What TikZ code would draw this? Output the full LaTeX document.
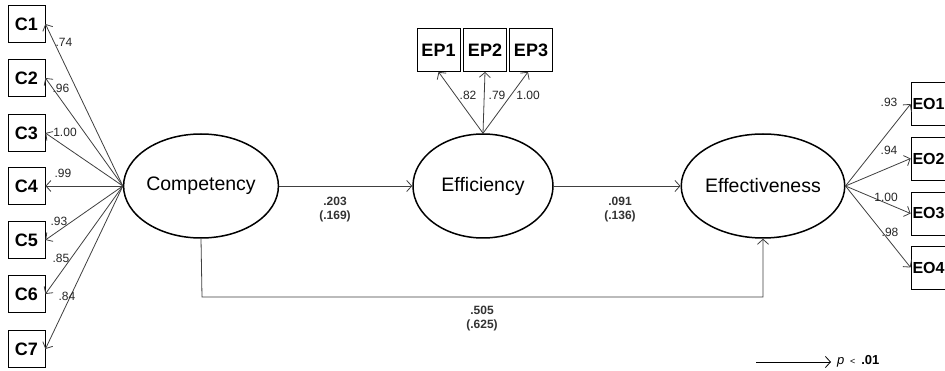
\documentclass[tikz,border=0pt]{standalone}
\usepackage{fontspec}
\setmainfont{Liberation Sans}
\usetikzlibrary{arrows.meta,shapes.geometric}
\begin{document}
\begin{tikzpicture}[x=1pt,y=-1pt,
  obs/.style={draw, line width=0.8pt, minimum width=37pt, minimum height=37pt, inner sep=0pt, font=\bfseries\fontsize{18}{18}\selectfont},
  obsw/.style={obs, minimum width=43pt, minimum height=43pt},
  obse/.style={obs, minimum height=43pt, text width=40pt, inner xsep=1.5pt, align=left, font=\bfseries\fontsize{16}{16}\selectfont},
  lat/.style={draw, ellipse, line width=1.5pt, minimum width=140pt, minimum height=104pt, inner sep=0pt, font=\fontsize{19.5}{20}\selectfont},
  arr/.style={draw=black!75, line width=0.8pt, -{Straight Barb[length=5pt,width=11pt]}},
  lab/.style={inner sep=0pt, text=black!85, font=\fontsize{12}{12}\selectfont},
  plab/.style={inner sep=0pt, text=black!80, align=center, font=\bfseries\fontsize{12}{14}\selectfont}
]
\useasboundingbox (0,0) rectangle (945,371);
\clip (0,0) rectangle (945,371);
\fill[white] (0,0) rectangle (945,371);

% latent variables
\node[lat] (comp) at (201,186) {Competency};
\node[lat] (eff) at (483,186) {Efficiency};
\node[lat] (effv) at (763,186) {Effectiveness};

% competency indicators
\node[obs] (c1) at (26.5,24) {C1};
\node[obs] (c2) at (26.5,78) {C2};
\node[obs] (c3) at (26.5,133) {C3};
\node[obs] (c4) at (26.5,186) {C4};
\node[obs] (c5) at (26.5,240) {C5};
\node[obs] (c6) at (26.5,294) {C6};
\node[obs] (c7) at (26.5,349) {C7};
\foreach \i in {1,...,7} \draw[arr] (comp.west) -- (c\i.east);
\node[lab] (l1) at (64,42) {.74};
\node[lab] (l2) at (61,88) {.96};
\node[lab] (l3) at (65,132) {1.00};
\node[lab] (l4) at (63,173) {.99};
\node[lab] (l5) at (59,221) {.93};
\node[lab] (l6) at (61,258) {.85};
\node[lab] (l7) at (67,296) {.84};

% efficiency indicators
\node[obsw] (ep1) at (438.5,50) {EP1};
\node[obsw] (ep2) at (485,50) {EP2};
\node[obsw] (ep3) at (531,50) {EP3};
\draw[arr] (eff.north) -- (ep1.south);
\draw[arr] (eff.north) -- (ep2.south);
\draw[arr] (eff.north) -- ([xshift=-3pt]ep3.south);
\node[lab] (m1) at (468,95) {.82};
\node[lab] (m2) at (497,95) {.79};
\node[lab] (m3) at (528,95) {1.00};

% effectiveness indicators
\node[obse] (eo1) at (932.5,104) {EO1};
\node[obse] (eo2) at (932.5,158.5) {EO2};
\node[obse] (eo3) at (932.5,213.5) {EO3};
\node[obse] (eo4) at (932.5,267.5) {EO4};
\foreach \i in {1,...,4} \draw[arr] (effv.east) -- (eo\i.west);
\node[lab] (n1) at (889,102) {.93};
\node[lab] (n2) at (889,150) {.94};
\node[lab] (n3) at (886,197) {1.00};
\node[lab] (n4) at (890,232) {.98};

% structural paths
\draw[arr] (comp.east) -- (eff.west);
\draw[arr] (eff.east) -- (effv.west);
\coordinate (bl) at (202,297);
\draw[arr] (comp.south) -- (bl) -| (effv.south);
\node[plab] (p1) at (335,210) {.203\\(.169)};
\node[plab] (p2) at (620,210) {.091\\(.136)};
\node[plab] (p3) at (482,319) {.505\\(.625)};

% legend
\coordinate (lg1) at (756,362);
\coordinate (lg2) at (831,362);
\draw[draw=black, line width=0.8pt, -{Straight Barb[length=5pt,width=11pt]}] (lg1) -- (lg2);
\node[anchor=west, inner sep=0pt, font=\fontsize{13}{13}\selectfont] (lgt) at (837,361) {\textit{p} \,{\small<}\, \textbf{.01}};
\end{tikzpicture}
\end{document}
